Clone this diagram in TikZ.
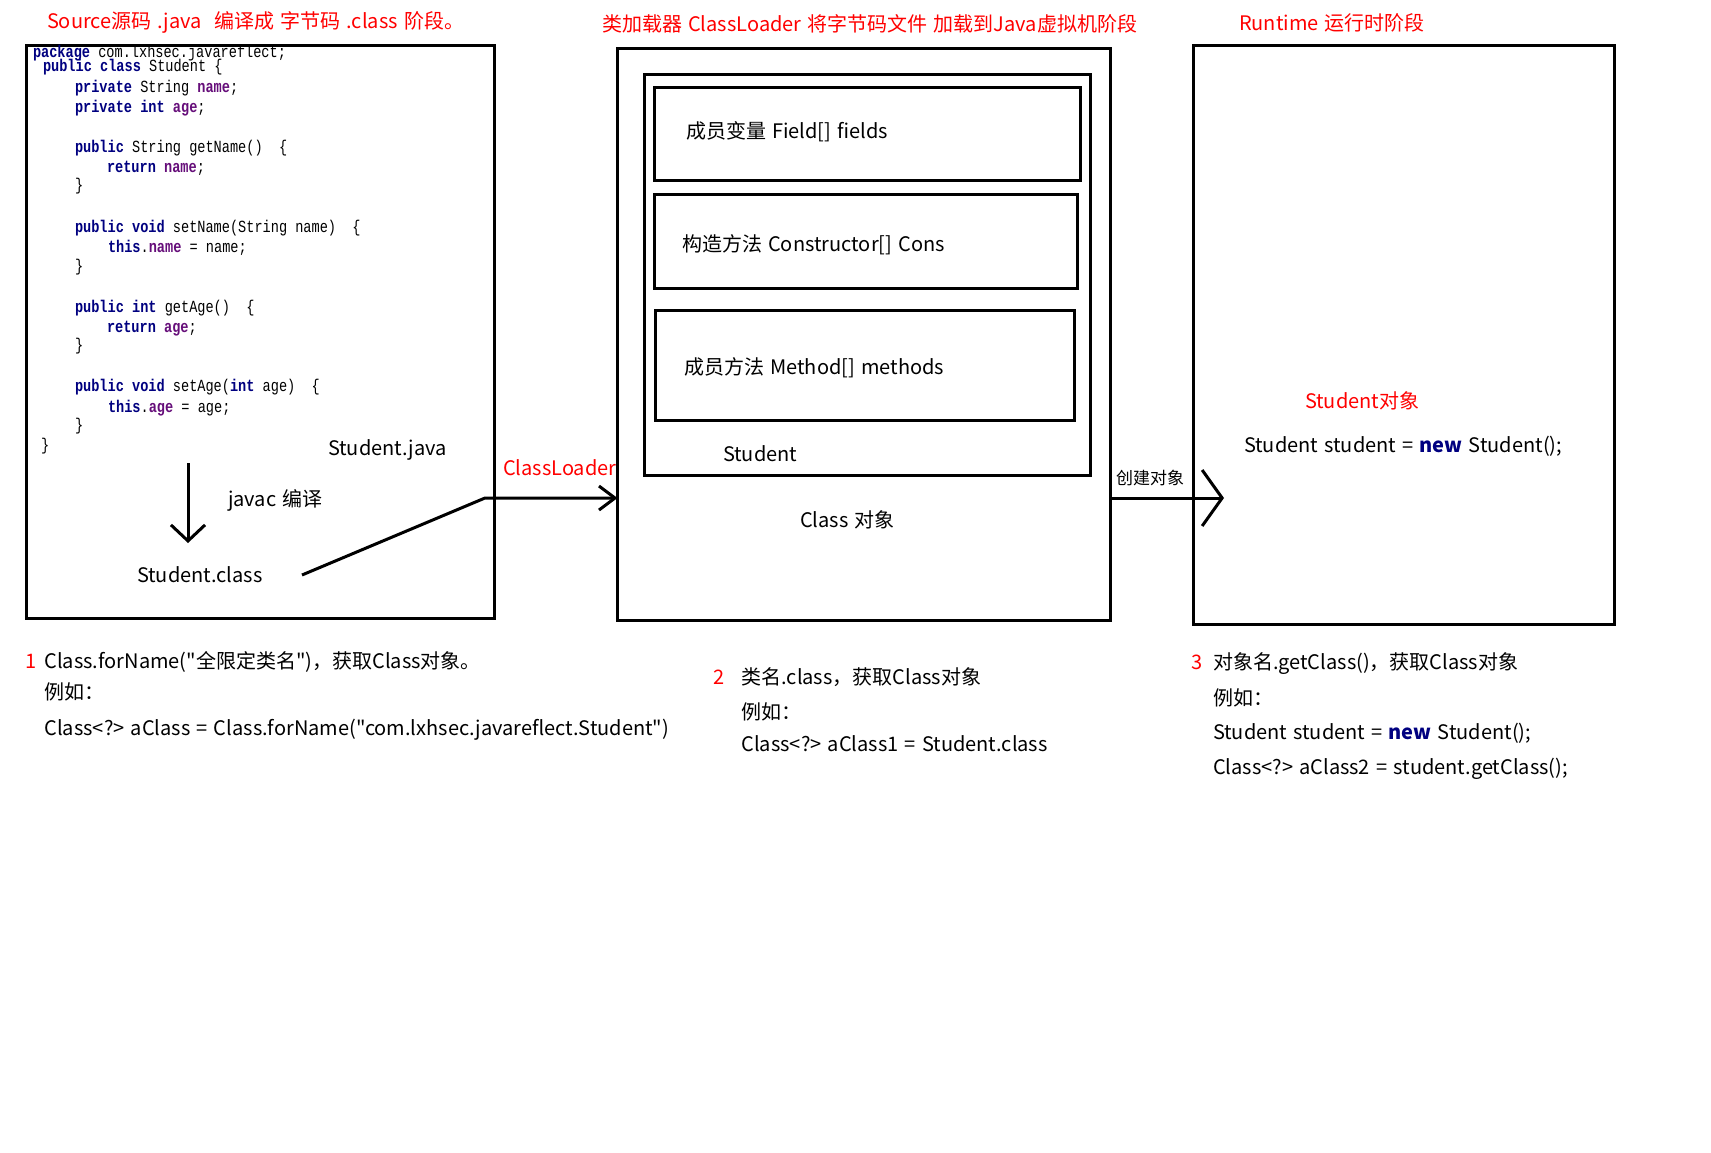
\documentclass[tikz,border=0pt]{standalone}
\usepackage{fontspec}
\setmainfont{Noto Sans CJK SC}[Ligatures=TeXOff]
\newfontfamily\codefont[FakeStretch=0.8]{Liberation Mono}
\usetikzlibrary{arrows.meta,calc}
\definecolor{titlered}{HTML}{FF0000}
\definecolor{kwnavy}{HTML}{000080}
\definecolor{fldpurple}{HTML}{660E7A}
\newcommand\jkw[1]{\textbf{\color{kwnavy}#1}}
\newcommand\jfld[1]{\textbf{\color{fldpurple}#1}}
\newcommand\lblfont{\fontsize{20}{24}\selectfont\spaceskip 6.2pt plus 1pt minus 1pt\relax}
\newcommand\codesize{\codefont\fontsize{17}{19}\selectfont}
\tikzset{
  panel/.style={draw, line width=3pt, inner sep=0pt, outer sep=0pt},
  lbl/.style={anchor=base west, inner sep=0pt, outer sep=0pt, font=\lblfont},
  redlbl/.style={lbl, text=titlered},
  smalllbl/.style={lbl, font=\fontsize{17}{20}\selectfont},
  codeln/.style={anchor=base west, inner sep=0pt, outer sep=0pt, font=\codesize},
  conn/.style={line width=3pt},
}
\begin{document}
\begin{tikzpicture}[x=1pt, y=-1pt]
\useasboundingbox[fill=white] (0,0) rectangle (1711,1152);

% ---- stage titles
\node[redlbl] (t1) at (47,28) {Source源码 .java\ \ 编译成 字节码 .class 阶段。};
\node[redlbl] (t2) at (602,31) {类加载器 ClassLoader 将字节码文件 加载到Java虚拟机阶段};
\node[redlbl] (t3) at (1239,30) {Runtime 运行时阶段};

% ---- source stage
\node[panel, minimum width=467.5pt, minimum height=573pt] (srcbox) at (260.25,331.5) {};
\node[codeln] (c1)  at (33,57)    {\jkw{package} com.lxhsec.javareflect;};
\node[codeln] (c2)  at (43,71.5)  {\jkw{public class} Student \{};
\node[codeln] (c3)  at (75,92)    {\jkw{private} String \jfld{name};};
\node[codeln] (c4)  at (75,112)   {\jkw{private int} \jfld{age};};
\node[codeln] (c5)  at (75,152)   {\jkw{public} String getName()\ \ \{};
\node[codeln] (c6)  at (107,172)  {\jkw{return} \jfld{name};};
\node[codeln] (c7)  at (75,190)   {\}};
\node[codeln] (c8)  at (75,232)   {\jkw{public void} setName(String name)\ \ \{};
\node[codeln] (c9)  at (108,252)  {\jkw{this}.\jfld{name} = name;};
\node[codeln] (c10) at (75,271)   {\}};
\node[codeln] (c11) at (75,312)   {\jkw{public int} getAge()\ \ \{};
\node[codeln] (c12) at (107,332)  {\jkw{return} \jfld{age};};
\node[codeln] (c13) at (75,350)   {\}};
\node[codeln] (c14) at (75,391)   {\jkw{public void} setAge(\jkw{int} age)\ \ \{};
\node[codeln] (c15) at (108,412)  {\jkw{this}.\jfld{age} = age;};
\node[codeln] (c16) at (75,430)   {\}};
\node[codeln] (c17) at (41,450)   {\}};

\node[lbl] (javaf)  at (328,455) {Student.java};
\node[lbl] (javac)  at (228,506) {javac 编译};
\node[lbl] (classf) at (137,582) {Student.class};
\coordinate (jvtop) at (188,463);
\coordinate (jvbot) at (188,543);
\draw[conn, -{Straight Barb[length=16pt, width=34pt]}] (jvtop) -- (jvbot);

% ---- class loading stage
\node[panel, minimum width=493pt, minimum height=572.5pt] (loadbox) at (864,334.3) {};
\node[panel, minimum width=446.3pt, minimum height=400.6pt] (stubox) at (867.2,275) {};
\node[panel, minimum width=426pt, minimum height=93.3pt] (fldbox) at (867.4,133.7) {};
\node[panel, minimum width=423pt, minimum height=94.6pt] (conbox) at (866,241.3) {};
\node[panel, minimum width=419pt, minimum height=110pt] (metbox) at (865,365.5) {};
\node[lbl] (fldtxt) at (686,138) {成员变量 Field[] fields};
\node[lbl] (contxt) at (682,251) {构造方法 Constructor[] Cons};
\node[lbl] (mettxt) at (684,374) {成员方法 Method[] methods};
\node[lbl] (stutxt) at (723,461) {Student};
\node[lbl] (clsobj) at (800,527) {Class 对象};

\coordinate (clstart) at (302,575);
\coordinate (clbend) at (485,498);
\node[redlbl] (cltxt) at (503,475) {ClassLoader};
\draw[conn, line join=miter, -{Straight Barb[length=16pt, width=24pt]}]
  (clstart) -- (clbend) -- (clbend -| loadbox.west);

% ---- runtime stage
\node[panel, minimum width=421.6pt, minimum height=579pt] (runbox) at (1403.8,334.9) {};
\node[redlbl] (objtxt) at (1305,408) {Student对象};
\node[lbl] (newtxt) at (1244,452) {Student student = \jkw{new} Student();};
\node[smalllbl] (mktxt) at (1116,484) {创建对象};
\coordinate (mktip) at (1224,498);
\draw[conn, -{Straight Barb[length=20pt, width=56pt]}] (loadbox.east |- mktip) -- (mktip);

% ---- ways to obtain the Class object
\node[redlbl] (n1) at (25,668) {1};
\node[lbl] (w1a) at (44.5,668) {Class.forName("全限定类名")，获取Class对象。};
\node[lbl] (w1b) at (44.5,699) {例如：};
\node[lbl] (w1c) at (44.5,735) {Class<?> aClass = Class.forName("com.lxhsec.javareflect.Student")};

\node[redlbl] (n2) at (713,684) {2};
\node[lbl] (w2a) at (741.5,684) {类名.class，获取Class对象};
\node[lbl] (w2b) at (741.5,719) {例如：};
\node[lbl] (w2c) at (741.5,751) {Class<?> aClass1 = Student.class};

\node[redlbl] (n3) at (1191,669) {3};
\node[lbl] (w3a) at (1213,669) {对象名.getClass()，获取Class对象};
\node[lbl] (w3b) at (1213,705) {例如：};
\node[lbl] (w3c) at (1213,739) {Student student = \jkw{new} Student();};
\node[lbl] (w3d) at (1213,774) {Class<?> aClass2 = student.getClass();};
\end{tikzpicture}
\end{document}
